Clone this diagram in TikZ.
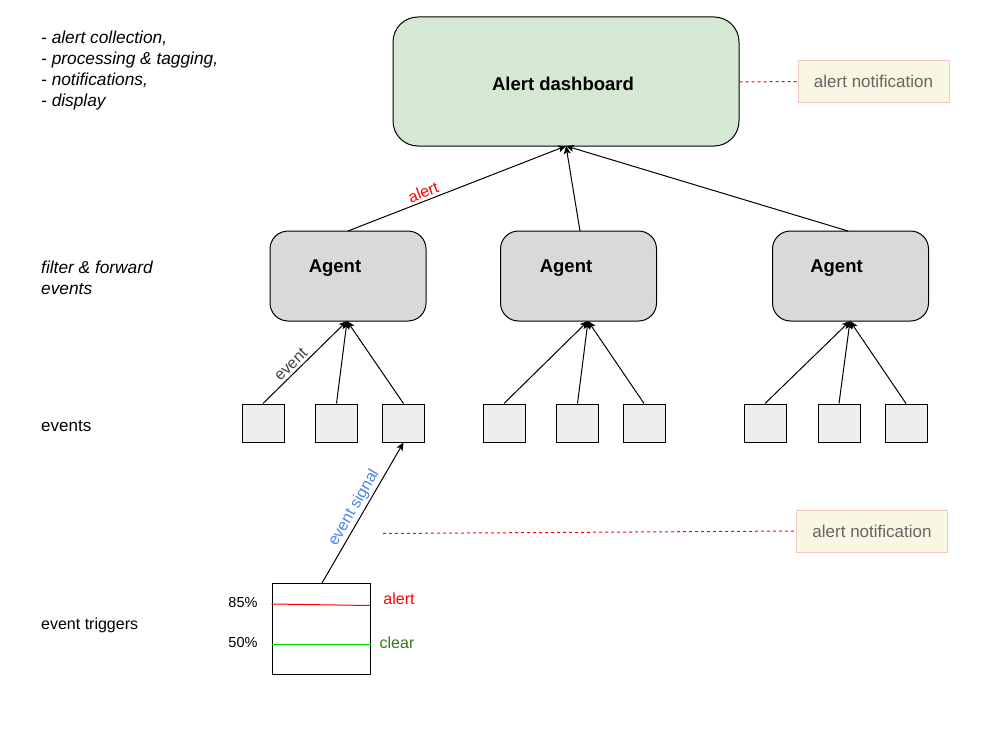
\documentclass[tikz,border=0pt]{standalone}
\usepackage{fontspec}
\setmainfont{Liberation Sans}
\usetikzlibrary{arrows.meta}
\definecolor{dashgreen}{HTML}{D5E8D4}
\definecolor{agentgray}{HTML}{D9D9D9}
\definecolor{evfill}{HTML}{EEEEEE}
\definecolor{notefill}{HTML}{F9F7E3}
\definecolor{notedraw}{HTML}{F4C7C3}
\definecolor{notetext}{HTML}{666660}
\definecolor{sigblue}{HTML}{4A86E8}
\definecolor{cleargreen}{HTML}{38761D}
\definecolor{linegreen}{HTML}{00DD00}
\definecolor{labgray}{HTML}{444444}
\begin{document}
\begin{tikzpicture}[x=1pt,y=-1pt,
  txt/.style={font=\fontsize{16}{21}\selectfont, inner sep=0pt},
  itxt/.style={font=\fontsize{17.3}{21}\selectfont\itshape, inner sep=0pt, align=left, anchor=west},
  btxt/.style={font=\fontsize{18.5}{22}\selectfont\bfseries, inner sep=0pt},
  dashbox/.style={draw=black, line width=1pt, fill=dashgreen, rounded corners=25pt, minimum width=346pt, minimum height=129pt},
  agentbox/.style={draw=black, line width=1pt, fill=agentgray, rounded corners=18pt, minimum width=156pt, minimum height=90pt},
  evbox/.style={draw=black, line width=1pt, fill=evfill, minimum width=42pt, minimum height=38pt, inner sep=0pt},
  notebox/.style={draw=notedraw, line width=1pt, fill=notefill, minimum width=151pt, minimum height=42pt, text=notetext, font=\fontsize{17}{20}\selectfont},
  arr/.style={draw=black, line width=1pt, -{Stealth[length=8pt,width=7pt,inset=2pt]}},
  reddash/.style={draw=red, line width=1pt, dash pattern=on 3pt off 3pt}
]
\useasboundingbox[fill=white] (0,0) rectangle (992,741);

% left annotations
\node[itxt] (lista) at (41,70.5) {- alert collection,\\- processing \& tagging,\\- notifications,\\- display};
\node[itxt] (filt) at (41,278) {filter \& forward\\events};
\node[txt, anchor=west, font=\fontsize{17}{21}\selectfont] (evlab) at (41,426) {events};
\node[txt, anchor=west] (trlab) at (41,625) {event triggers};

% dashboard
\node[dashbox] (dash) at (566,81.5) {};
\node[btxt] (dashtxt) at (563,84) {Alert dashboard};

% notifications
\node[notebox] (note1) at (873.5,81.5) {\raisebox{-1.5pt}{alert notification}};
\node[notebox] (note2) at (872,531) {\raisebox{-1.5pt}{alert notification}};
\draw[reddash] (dash.east |- 0,82) -- (note1.west);
\coordinate (d2start) at (383,533.5);
\draw[reddash] (d2start) -- (note2.west);

% agents
\node[agentbox] (ag1) at (348,276) {};
\node[agentbox] (ag2) at (578.5,276) {};
\node[agentbox] (ag3) at (850.5,276) {};
\node[btxt] (ag1t) at (335,268) {Agent};
\node[btxt] (ag2t) at (566,268) {Agent};
\node[btxt] (ag3t) at (836.5,268) {Agent};

% dashboard arrows
\coordinate (dtip) at (566,146);
\coordinate (s1) at (348,231);
\coordinate (s2) at (580,231);
\coordinate (s3) at (848,231);
\draw[arr] (s1) -- node[pos=0.36, sloped, above=2.5pt, txt, text=red] (alertlab) {alert} (dtip);
\draw[arr] (s2) -- (dtip);
\draw[arr] (s3) -- (dtip);

% event boxes
\node[evbox] (e1) at (263,423) {};
\node[evbox] (e2) at (336.5,423) {};
\node[evbox] (e3) at (403.5,423) {};
\node[evbox] (e4) at (504,423) {};
\node[evbox] (e5) at (577.5,423) {};
\node[evbox] (e6) at (644,423) {};
\node[evbox] (e7) at (765,423) {};
\node[evbox] (e8) at (839,423) {};
\node[evbox] (e9) at (906,423) {};

\coordinate (t1) at (347,321);
\coordinate (t2) at (588,321);
\coordinate (t3) at (850,321);
\draw[arr] (e1.north) -- node[pos=0.4, sloped, above=2.5pt, txt, text=labgray] (eventlab) {event} (t1);
\draw[arr] (e2.north) -- (t1);
\draw[arr] (e3.north) -- (t1);
\draw[arr] (e4.north) -- (t2);
\draw[arr] (e5.north) -- (t2);
\draw[arr] (e6.north) -- (t2);
\draw[arr] (e7.north) -- (t3);
\draw[arr] (e8.north) -- (t3);
\draw[arr] (e9.north) -- (t3);

% trigger box
\node[draw=black, line width=1pt, fill=white, minimum width=98pt, minimum height=91pt, inner sep=0pt] (trig) at (321,628.5) {};
\draw[draw=red, line width=1pt] (trig.west |- 0,604) -- (trig.east |- 0,605.5);
\draw[draw=linegreen, line width=1pt] (trig.west |- 0,644) -- (trig.east |- 0,644);
\node[txt, font=\fontsize{14.5}{17}\selectfont] (p85) at (243,602) {85\%};
\node[txt, font=\fontsize{14.5}{17}\selectfont] (p50) at (243,642) {50\%};
\node[txt, text=red] (alr) at (399,599) {alert};
\node[txt, text=cleargreen] (clr) at (397,643) {clear};

% event signal
\coordinate (sigs) at (322,583);
\draw[arr] (sigs) -- node[pos=0.5, sloped, above=2pt, txt, text=sigblue] (siglab) {event signal} (e3.south);
\end{tikzpicture}
\end{document}
